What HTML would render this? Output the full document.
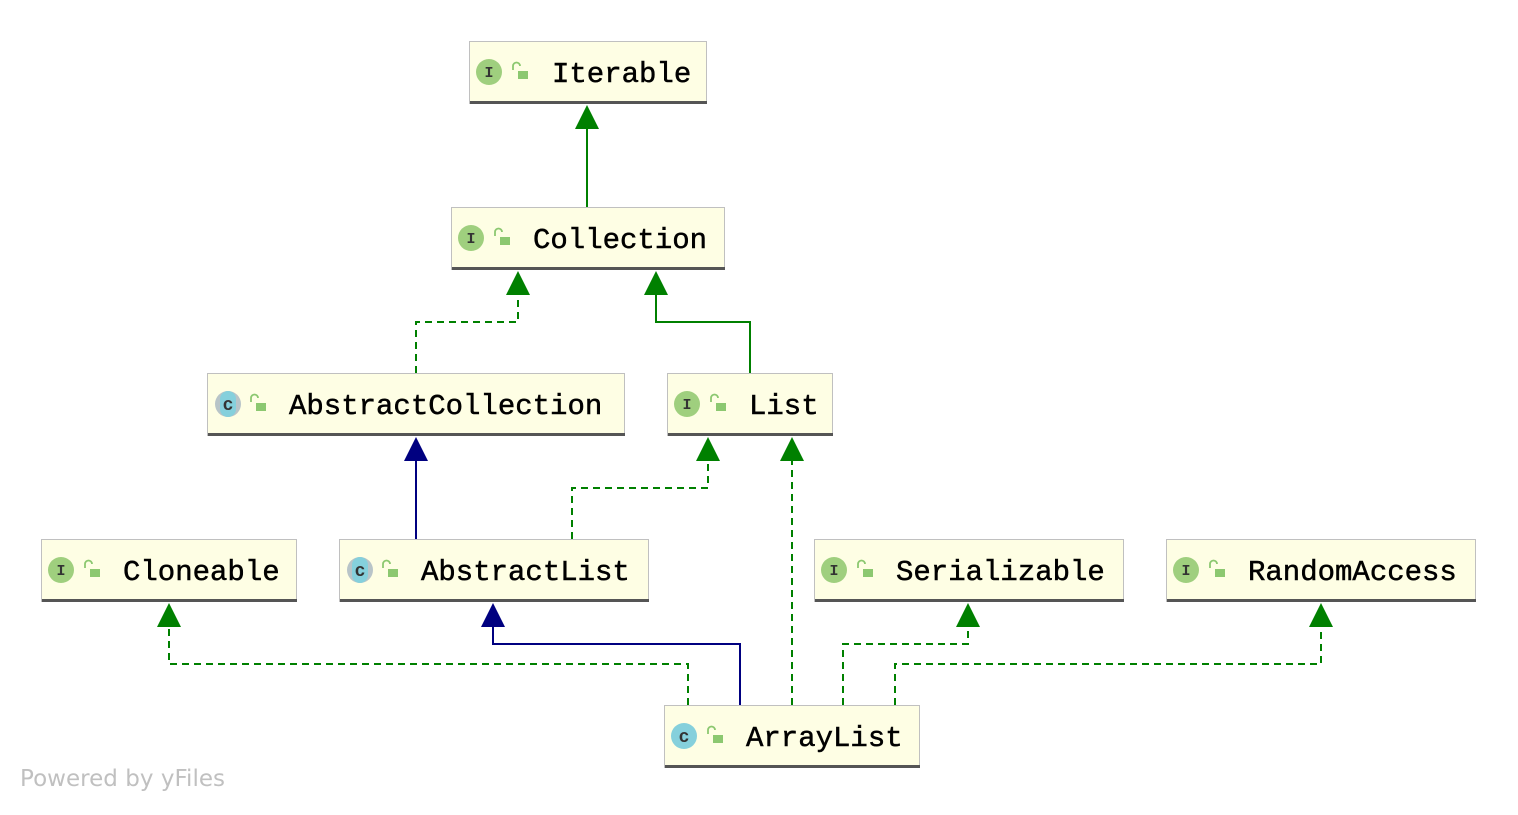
<!DOCTYPE html>
<html><head><meta charset="utf-8"><style>
html,body{margin:0;padding:0;background:#fff;}
svg text{font-family:"Liberation Mono","DejaVu Sans Mono",monospace;}
</style></head><body>
<svg width="1518" height="810" viewBox="0 0 1518 810" xmlns="http://www.w3.org/2000/svg">
<defs>
<g id="lock"><path d="M-7,-2 v-4 a3.5,3.5 0 0 1 7,0" fill="none" stroke="#8cc870" stroke-width="1.8"/><rect x="-2" y="-1" width="10" height="8" fill="#8cc870"/></g>
</defs>
<g fill="none" stroke-width="2">
<path d="M587,207 V126" stroke="#008000"/>
<path d="M416,373 V322 H518 V292" stroke="#008000" stroke-dasharray="7,5"/>
<path d="M750,373 V322 H656 V292" stroke="#008000"/>
<path d="M416,539 V458" stroke="#000080"/>
<path d="M572,539 V488 H708 V458" stroke="#008000" stroke-dasharray="7,5"/>
<path d="M792,705 V458" stroke="#008000" stroke-dasharray="7,5"/>
<path d="M688,705 V664 H169 V624" stroke="#008000" stroke-dasharray="7,5"/>
<path d="M740,705 V644 H493 V624" stroke="#000080"/>
<path d="M843,705 V644 H968 V624" stroke="#008000" stroke-dasharray="7,5"/>
<path d="M895,705 V664 H1321 V624" stroke="#008000" stroke-dasharray="7,5"/>
</g>
<g fill="#008000">
<polygon points="587,105 575,129 599,129"/>
<polygon points="518,271 506,295 530,295"/>
<polygon points="656,271 644,295 668,295"/>
<polygon points="708,437 696,461 720,461"/>
<polygon points="792,437 780,461 804,461"/>
<polygon points="169,603 157,627 181,627"/>
<polygon points="968,603 956,627 980,627"/>
<polygon points="1321,603 1309,627 1333,627"/>
</g>
<g fill="#000080">
<polygon points="416,437 404,461 428,461"/>
<polygon points="493,603 481,627 505,627"/>
</g>
<g font-size="29" fill="#000" stroke="#000" stroke-width="0.5">
<rect x="469.5" y="41.5" width="237" height="62" fill="#fefee4" stroke="#c0c0c0" stroke-width="1"/><rect x="470" y="101" width="237" height="3" fill="#555" stroke="none"/>
<circle cx="489" cy="72" r="13" fill="#9fcf7e" stroke="none"/><text x="489" y="77" font-size="15" text-anchor="middle" fill="#333" stroke="none" font-weight="bold">I</text><use href="#lock" x="520" y="72" stroke="none"/>
<text x="552" y="82">Iterable</text>
<rect x="451.5" y="207.5" width="273" height="62" fill="#fefee4" stroke="#c0c0c0" stroke-width="1"/><rect x="452" y="267" width="273" height="3" fill="#555" stroke="none"/>
<circle cx="471" cy="238" r="13" fill="#9fcf7e" stroke="none"/><text x="471" y="243" font-size="15" text-anchor="middle" fill="#333" stroke="none" font-weight="bold">I</text><use href="#lock" x="502" y="238" stroke="none"/>
<text x="533" y="248">Collection</text>
<rect x="207.5" y="373.5" width="417" height="62" fill="#fefee4" stroke="#c0c0c0" stroke-width="1"/><rect x="208" y="433" width="417" height="3" fill="#555" stroke="none"/>
<circle cx="228" cy="404" r="13" fill="#b8c4c8" stroke="none"/><rect x="220" y="391" width="16" height="26" rx="8" fill="#85d0dc" stroke="none"/><text x="228" y="410" font-size="18" text-anchor="middle" fill="#333" stroke="none" font-weight="bold">c</text><use href="#lock" x="258" y="404" stroke="none"/>
<text x="289" y="414">AbstractCollection</text>
<rect x="667.5" y="373.5" width="165" height="62" fill="#fefee4" stroke="#c0c0c0" stroke-width="1"/><rect x="668" y="433" width="165" height="3" fill="#555" stroke="none"/>
<circle cx="687" cy="404" r="13" fill="#9fcf7e" stroke="none"/><text x="687" y="409" font-size="15" text-anchor="middle" fill="#333" stroke="none" font-weight="bold">I</text><use href="#lock" x="718" y="404" stroke="none"/>
<text x="749" y="414">List</text>
<rect x="41.5" y="539.5" width="255" height="62" fill="#fefee4" stroke="#c0c0c0" stroke-width="1"/><rect x="42" y="599" width="255" height="3" fill="#555" stroke="none"/>
<circle cx="61" cy="570" r="13" fill="#9fcf7e" stroke="none"/><text x="61" y="575" font-size="15" text-anchor="middle" fill="#333" stroke="none" font-weight="bold">I</text><use href="#lock" x="92" y="570" stroke="none"/>
<text x="123" y="580">Cloneable</text>
<rect x="339.5" y="539.5" width="309" height="62" fill="#fefee4" stroke="#c0c0c0" stroke-width="1"/><rect x="340" y="599" width="309" height="3" fill="#555" stroke="none"/>
<circle cx="360" cy="570" r="13" fill="#b8c4c8" stroke="none"/><rect x="352" y="557" width="16" height="26" rx="8" fill="#85d0dc" stroke="none"/><text x="360" y="576" font-size="18" text-anchor="middle" fill="#333" stroke="none" font-weight="bold">c</text><use href="#lock" x="390" y="570" stroke="none"/>
<text x="421" y="580">AbstractList</text>
<rect x="814.5" y="539.5" width="309" height="62" fill="#fefee4" stroke="#c0c0c0" stroke-width="1"/><rect x="815" y="599" width="309" height="3" fill="#555" stroke="none"/>
<circle cx="834" cy="570" r="13" fill="#9fcf7e" stroke="none"/><text x="834" y="575" font-size="15" text-anchor="middle" fill="#333" stroke="none" font-weight="bold">I</text><use href="#lock" x="865" y="570" stroke="none"/>
<text x="896" y="580">Serializable</text>
<rect x="1166.5" y="539.5" width="309" height="62" fill="#fefee4" stroke="#c0c0c0" stroke-width="1"/><rect x="1167" y="599" width="309" height="3" fill="#555" stroke="none"/>
<circle cx="1186" cy="570" r="13" fill="#9fcf7e" stroke="none"/><text x="1186" y="575" font-size="15" text-anchor="middle" fill="#333" stroke="none" font-weight="bold">I</text><use href="#lock" x="1217" y="570" stroke="none"/>
<text x="1248" y="580">RandomAccess</text>
<rect x="664.5" y="705.5" width="255" height="62" fill="#fefee4" stroke="#c0c0c0" stroke-width="1"/><rect x="665" y="765" width="255" height="3" fill="#555" stroke="none"/>
<circle cx="684" cy="736" r="13" fill="#85d0dc" stroke="none"/><text x="684" y="742" font-size="18" text-anchor="middle" fill="#333" stroke="none" font-weight="bold">c</text><use href="#lock" x="715" y="736" stroke="none"/>
<text x="746" y="746">ArrayList</text>
</g>
<text x="20" y="786" font-size="23" fill="#c0c0c0" style="font-family:'DejaVu Sans','Liberation Sans',sans-serif" textLength="205">Powered by yFiles</text>
</svg>
</body></html>
